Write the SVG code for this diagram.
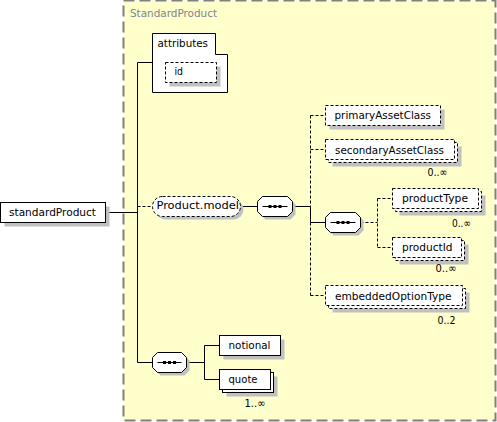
<svg xmlns="http://www.w3.org/2000/svg" width="497" height="422" viewBox="0 0 497 422">
<style>
.bg{fill:#FFFFCC;stroke:#808080;stroke-width:2;stroke-dasharray:11,5}
.box{fill:#FFFFFF;stroke:#000000;stroke-width:1}
.dbox{fill:#FFFFFF;stroke:#000000;stroke-width:1;stroke-dasharray:3,2}
.sh{fill:#C0C0C0;stroke:none}
.ln{fill:none;stroke:#000000;stroke-width:1}
.dl{fill:none;stroke:#000000;stroke-width:1;stroke-dasharray:3,2}
.t{font-family:"DejaVu Sans",Verdana,sans-serif;font-size:11px;fill:#000000}
.tc{font-family:"DejaVu Sans",Verdana,sans-serif;font-size:11px;fill:#7D8591}
.dot{fill:#000000}
</style>
<rect class="bg" x="123.5" y="0.5" width="372" height="420"/>
<text class="tc" x="130" y="17" textLength="87" lengthAdjust="spacingAndGlyphs">StandardProduct</text>

<g id="connectors">
<line class="ln" x1="105.5" y1="212.5" x2="137.5" y2="212.5"/>
<line class="ln" x1="137.5" y1="62.5" x2="137.5" y2="362.5"/>
<line class="ln" x1="137.5" y1="62.5" x2="152.5" y2="62.5"/>
<line class="dl" x1="137.5" y1="206.5" x2="152.5" y2="206.5"/>
<line class="ln" x1="137.5" y1="362.5" x2="152.5" y2="362.5"/>
<line class="ln" x1="240.5" y1="206.5" x2="257.5" y2="206.5"/>
<line class="ln" x1="292.5" y1="206.5" x2="310.5" y2="206.5"/>
<line class="dl" x1="310.5" y1="115.5" x2="310.5" y2="206.5"/>
<line class="ln" x1="310.5" y1="206.5" x2="310.5" y2="222.5"/>
<line class="dl" x1="310.5" y1="222.5" x2="310.5" y2="295.5"/>
<line class="dl" x1="310.5" y1="115.5" x2="325.5" y2="115.5"/>
<line class="dl" x1="310.5" y1="149.5" x2="325.5" y2="149.5"/>
<line class="ln" x1="310.5" y1="222.5" x2="325.5" y2="222.5"/>
<line class="dl" x1="310.5" y1="295.5" x2="325.5" y2="295.5"/>
<line class="dl" x1="360.5" y1="222.5" x2="377.5" y2="222.5"/>
<line class="dl" x1="377.5" y1="198.5" x2="377.5" y2="247.5"/>
<line class="dl" x1="377.5" y1="198.5" x2="392.5" y2="198.5"/>
<line class="dl" x1="377.5" y1="247.5" x2="392.5" y2="247.5"/>
<line class="ln" x1="186.5" y1="362.5" x2="204.5" y2="362.5"/>
<line class="ln" x1="204.5" y1="345.5" x2="204.5" y2="379.5"/>
<line class="ln" x1="204.5" y1="345.5" x2="219.5" y2="345.5"/>
<line class="ln" x1="204.5" y1="379.5" x2="219.5" y2="379.5"/>
</g>

<g id="node-standardProduct">
<rect class="sh" x="4.5" y="206.5" width="105" height="20"/>
<rect class="box" x="0.5" y="202.5" width="105" height="20"/>
<text class="t" x="9" y="216" textLength="87" lengthAdjust="spacingAndGlyphs">standardProduct</text>
</g>

<g id="node-attributes">
<polygon class="box" points="152.5,33.5 215.5,33.5 215.5,54.5 227.5,54.5 227.5,92.5 152.5,92.5"/>
<text class="t" x="157.5" y="46.5" textLength="50.5" lengthAdjust="spacingAndGlyphs">attributes</text>
</g>

<g id="node-id">
<rect class="sh" x="169.5" y="66.5" width="51" height="20"/>
<rect class="dbox" x="165.5" y="62.5" width="51" height="20"/>
<text class="t" x="174.5" y="75" textLength="8.5" lengthAdjust="spacingAndGlyphs">id</text>
</g>

<g id="node-Product.model">
<rect class="sh" x="155.5" y="199.5" width="88" height="20" rx="10"/>
<rect class="dbox" x="152.5" y="196.5" width="88" height="20" rx="10"/>
<text class="t" x="156.5" y="209" textLength="82.5" lengthAdjust="spacingAndGlyphs">Product.model</text>
</g>

<g id="node-sequence1">
<path class="sh" d="M265.5,199.5 H290.5 L295.5,204.5 V214.5 L290.5,219.5 H265.5 L260.5,214.5 V204.5 Z"/>
<path class="box" d="M262.5,196.5 H287.5 L292.5,201.5 V211.5 L287.5,216.5 H262.5 L257.5,211.5 V201.5 Z"/>
<line class="ln" x1="262.5" y1="206.5" x2="287.5" y2="206.5"/>
<rect class="dot" x="268.5" y="205" width="3" height="3"/>
<rect class="dot" x="273.5" y="205" width="3" height="3"/>
<rect class="dot" x="278.5" y="205" width="3" height="3"/>
</g>

<g id="node-primaryAssetClass">
<rect class="sh" x="329.5" y="109.5" width="115" height="20"/>
<rect class="dbox" x="325.5" y="105.5" width="115" height="20"/>
<text class="t" x="334.5" y="119" textLength="96.5" lengthAdjust="spacingAndGlyphs">primaryAssetClass</text>
</g>

<g id="node-secondaryAssetClass">
<rect class="sh" x="332.5" y="146.5" width="129" height="20"/>
<rect class="dbox" x="328.5" y="142.5" width="129" height="20"/>
<rect class="dbox" x="325.5" y="139.5" width="129" height="20"/>
<text class="t" x="335" y="153.5" textLength="109" lengthAdjust="spacingAndGlyphs">secondaryAssetClass</text>
<text class="t" x="427.5" y="176" textLength="20" lengthAdjust="spacingAndGlyphs">0..∞</text>
</g>

<g id="node-sequence2">
<path class="sh" d="M333.5,215.5 H358.5 L363.5,220.5 V230.5 L358.5,235.5 H333.5 L328.5,230.5 V220.5 Z"/>
<path class="box" d="M330.5,212.5 H355.5 L360.5,217.5 V227.5 L355.5,232.5 H330.5 L325.5,227.5 V217.5 Z"/>
<line class="ln" x1="330.5" y1="222.5" x2="355.5" y2="222.5"/>
<rect class="dot" x="336.5" y="221" width="3" height="3"/>
<rect class="dot" x="341.5" y="221" width="3" height="3"/>
<rect class="dot" x="346.5" y="221" width="3" height="3"/>
</g>

<g id="node-productType">
<rect class="sh" x="399.5" y="195.5" width="86" height="20"/>
<rect class="dbox" x="395.5" y="191.5" width="86" height="20"/>
<rect class="dbox" x="392.5" y="188.5" width="86" height="20"/>
<text class="t" x="402" y="202" textLength="66" lengthAdjust="spacingAndGlyphs">productType</text>
<text class="t" x="452" y="226.5" textLength="19" lengthAdjust="spacingAndGlyphs">0..∞</text>
</g>

<g id="node-productId">
<rect class="sh" x="399.5" y="244.5" width="69" height="20"/>
<rect class="dbox" x="395.5" y="240.5" width="69" height="20"/>
<rect class="dbox" x="392.5" y="237.5" width="69" height="20"/>
<text class="t" x="402" y="251" textLength="50.5" lengthAdjust="spacingAndGlyphs">productId</text>
<text class="t" x="435.5" y="271.5" textLength="21" lengthAdjust="spacingAndGlyphs">0..∞</text>
</g>

<g id="node-embeddedOptionType">
<rect class="sh" x="332.5" y="292.5" width="137" height="20"/>
<rect class="dbox" x="328.5" y="288.5" width="137" height="20"/>
<rect class="dbox" x="325.5" y="285.5" width="137" height="20"/>
<text class="t" x="335" y="299.5" textLength="116.5" lengthAdjust="spacingAndGlyphs">embeddedOptionType</text>
<text class="t" x="437.5" y="324" textLength="18" lengthAdjust="spacingAndGlyphs">0..2</text>
</g>

<g id="node-sequence3">
<path class="sh" d="M160.5,355.5 H184.5 L189.5,360.5 V370.5 L184.5,375.5 H160.5 L155.5,370.5 V360.5 Z"/>
<path class="box" d="M157.5,352.5 H181.5 L186.5,357.5 V367.5 L181.5,372.5 H157.5 L152.5,367.5 V357.5 Z"/>
<line class="ln" x1="157.5" y1="362.5" x2="181.5" y2="362.5"/>
<rect class="dot" x="163" y="361" width="3" height="3"/>
<rect class="dot" x="168" y="361" width="3" height="3"/>
<rect class="dot" x="173" y="361" width="3" height="3"/>
</g>

<g id="node-notional">
<rect class="sh" x="223.5" y="339.5" width="61" height="20"/>
<rect class="box" x="219.5" y="335.5" width="61" height="20"/>
<text class="t" x="228.5" y="348.5" textLength="42" lengthAdjust="spacingAndGlyphs">notional</text>
</g>

<g id="node-quote">
<rect class="sh" x="226.5" y="376.5" width="51" height="20"/>
<rect class="box" x="222.5" y="372.5" width="51" height="20"/>
<rect class="box" x="219.5" y="369.5" width="51" height="20"/>
<text class="t" x="228.5" y="382.5" textLength="29" lengthAdjust="spacingAndGlyphs">quote</text>
<text class="t" x="244.5" y="406.5" textLength="21" lengthAdjust="spacingAndGlyphs">1..∞</text>
</g>
</svg>
